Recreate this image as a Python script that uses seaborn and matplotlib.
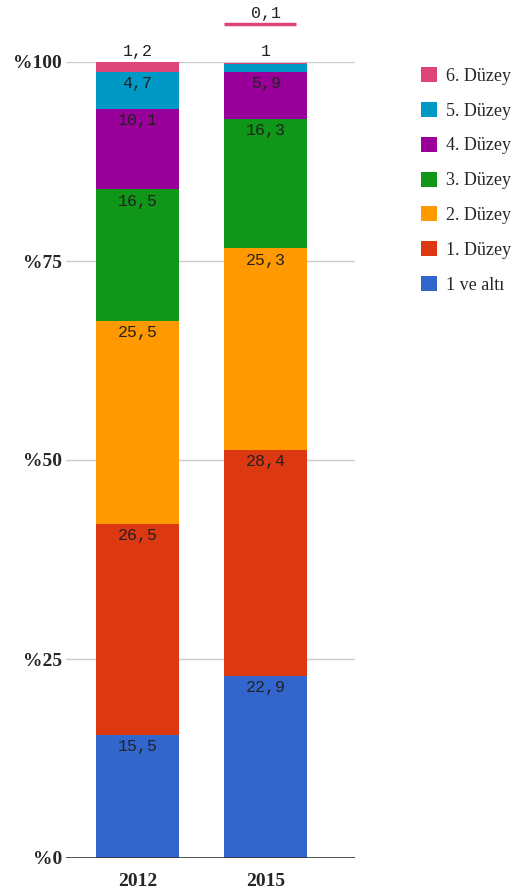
import matplotlib
matplotlib.use("Agg")
import matplotlib.pyplot as plt
import matplotlib.transforms as mtransforms
import seaborn as sns
import numpy as np
import pandas as pd

years = ["2012", "2015"]
levels = ["1 ve altı", "1. Düzey", "2. Düzey", "3. Düzey", "4. Düzey", "5. Düzey", "6. Düzey"]
vals_2012 = [15.5, 26.5, 25.5, 16.5, 10.1, 4.7, 1.2]
vals_2015 = [22.9, 28.4, 25.3, 16.3, 5.9, 1.0, 0.1]
labels_2012 = ["15,5", "26,5", "25,5", "16,5", "10,1", "4,7", "1,2"]
labels_2015 = ["22,9", "28,4", "25,3", "16,3", "5,9", "1", "0,1"]
colors = ["#3366cc", "#dc3912", "#ff9900", "#109618", "#990099", "#0099c6", "#dd4477"]
yticks = [0, 25, 50, 75, 100]
ytick_labels = ["%0", "%25", "%50", "%75", "%100"]

sns.set_style("white")

rows = []
for yr, vals in zip(years, [vals_2012, vals_2015]):
    cum = np.cumsum(vals)
    for lv, v, c in zip(levels, vals, cum):
        rows.append({"year": yr, "level": lv, "value": v, "cum": c})
df = pd.DataFrame(rows)

fig = plt.figure(figsize=(5.17, 8.9), dpi=100)
ax = fig.add_axes([66 / 517, 32 / 890, 289 / 517, 796 / 890])

# gridlines
for t in yticks[1:]:
    ax.axhline(t, color="#cccccc", lw=1, zorder=0)
ax.axhline(0, color="#333333", lw=1.2, zorder=5)

palette = dict(zip(levels, colors))
hue_order = levels[::-1]
sns.barplot(data=df, x="year", y="cum", hue="level", hue_order=hue_order,
            order=years, dodge=False, palette=palette, width=0.646, saturation=1,
            errorbar=None, linewidth=0, ax=ax, zorder=2)

ax.set_ylim(0, 100)
ax.set_xlim(-0.556, 1.693)
ax.set_yticks(yticks)
ax.set_yticklabels(ytick_labels, fontfamily="Liberation Serif", fontweight="bold", fontsize=14)
ax.set_xticks([0, 1])
ax.set_xticklabels(years, fontfamily="Liberation Serif", fontweight="bold", fontsize=14)
ax.tick_params(axis="y", length=0, pad=3)
ax.tick_params(axis="x", length=0, pad=11)
ax.set_xlabel("")
ax.set_ylabel("")
for s in ax.spines.values():
    s.set_visible(False)

mono = "Liberation Mono"
for xi, (vals, labs) in enumerate(zip([vals_2012, vals_2015], [labels_2012, labels_2015])):
    cum = np.cumsum(vals)
    for i, (v, c, lab) in enumerate(zip(vals, cum, labs)):
        if v >= 3:
            ax.annotate(lab, xy=(xi, c), xytext=(0, -8.5), textcoords="offset points",
                        ha="center", va="center", fontfamily=mono, fontsize=12,
                        color="#222222", zorder=6)

# small segments labelled above the bars
ax.annotate(labels_2012[6], xy=(0, 100), xytext=(0, 7.5), textcoords="offset points",
            ha="center", va="center", fontfamily=mono, fontsize=12, color="#222222",
            annotation_clip=False)
ax.annotate(labels_2015[5], xy=(1, 100), xytext=(0, 7.5), textcoords="offset points",
            ha="center", va="center", fontfamily=mono, fontsize=12, color="#222222",
            annotation_clip=False)
# stem line for the tiny 6. Düzey segment of 2015
trans = mtransforms.offset_copy(ax.transData, fig=fig, x=0, y=27.5, units="points")
ax.plot([1 - 0.646 / 2, 1 + 0.646 * 0.36], [100, 100], color=colors[6], lw=2.5,
        transform=trans, clip_on=False, solid_capstyle="butt")
ax.annotate(labels_2015[6], xy=(1, 100), xytext=(0, 35), textcoords="offset points",
            ha="center", va="center", fontfamily=mono, fontsize=12, color="#222222",
            annotation_clip=False)

handles, labs = ax.get_legend_handles_labels()
if ax.get_legend() is not None:
    ax.get_legend().remove()
leg = fig.legend(handles, labs, loc="upper left", bbox_to_anchor=(421 / 517, 1 - 67 / 890),
                 frameon=False, prop={"family": "Liberation Serif", "size": 13},
                 handlelength=0.9, handleheight=0.9, handletextpad=0.5,
                 labelspacing=0.95, borderpad=0, borderaxespad=0)

fig.savefig("out.png", dpi=100)
